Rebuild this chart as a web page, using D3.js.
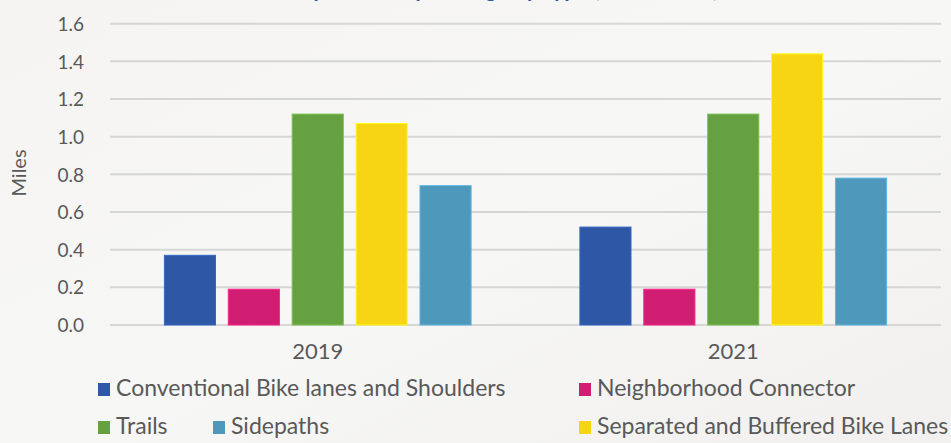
<!DOCTYPE html>
<html>
  <head>
    <meta charset="utf-8">
    <script src="https://cdn.jsdelivr.net/npm/d3@7/dist/d3.min.js"></script>
    <style>
      body { margin: 0; background: #f5f5f3; }
      text { font-family: Lato, 'Noto Sans', sans-serif; fill: #595959; }
    </style>
  </head>
  <body>
    <svg width="951" height="443"></svg>
    <script>
      // data
      const years = ['2019', '2021']
      const categories = [
        'Conventional Bike lanes and Shoulders',
        'Neighborhood Connector',
        'Trails',
        'Separated and Buffered Bike Lanes',
        'Sidepaths'
      ]
      const values2019 = [0.37, 0.19, 1.12, 1.07, 0.74]
      const values2021 = [0.52, 0.19, 1.12, 1.44, 0.78]
      const yTicks = [0, 0.2, 0.4, 0.6, 0.8, 1.0, 1.2, 1.4, 1.6]
      const colors = ['#2e57a5', '#d11d72', '#66a141', '#f7d414', '#4d98bb']

      const series = { '2019': values2019, '2021': values2021 }

      const svg = d3.select('svg')
      const width = +svg.attr('width')
      const height = +svg.attr('height')

      // soft background gradient
      const defs = svg.append('defs')
      const grad = defs.append('linearGradient').attr('id', 'bg')
        .attr('x1', '0%').attr('y1', '0%').attr('x2', '100%').attr('y2', '100%')
      grad.append('stop').attr('offset', '0%').attr('stop-color', '#f5f4f2')
      grad.append('stop').attr('offset', '50%').attr('stop-color', '#f7f7f6')
      grad.append('stop').attr('offset', '100%').attr('stop-color', '#f1f0ee')
      svg.append('rect').attr('width', width).attr('height', height).attr('fill', 'url(#bg)')

      // title, mostly above the top edge like in the source picture
      svg.append('text')
        .attr('x', 500).attr('y', -3)
        .attr('text-anchor', 'middle')
        .style('font-size', '22px').style('fill', '#2e57a5').style('font-weight', 'bold')
        .text('Bicycle Facility Mileage by Type (2019, 2021)')

      const left = 110, right = 941
      const y = d3.scaleLinear().domain([0, 1.6]).range([325, 23.7])

      const x0 = d3.scaleBand().domain(years).range([left, right]).padding(0)
      const inset = 48
      const x1 = d3.scaleBand().domain(categories)
        .range([inset, x0.bandwidth() - inset])
        .paddingInner(0.2).paddingOuter(0.1)

      // gridlines
      svg.append('g').selectAll('line')
        .data(yTicks).enter().append('line')
        .attr('x1', left).attr('x2', right)
        .attr('y1', (d) => y(d)).attr('y2', (d) => y(d))
        .attr('stroke', '#d6d6d6').attr('stroke-width', 2)

      // y axis labels
      const yAxis = d3.axisLeft(y).tickValues(yTicks).tickFormat(d3.format('.1f')).tickSize(0).tickPadding(0)
      const gy = svg.append('g').attr('transform', 'translate(84,0)').call(yAxis)
      gy.select('.domain').remove()
      gy.selectAll('text').style('font-size', '19px').style('fill', '#595959').attr('dy', '0.35em')

      svg.append('text')
        .attr('transform', 'translate(26,173) rotate(-90)')
        .attr('text-anchor', 'middle')
        .style('font-size', '20px')
        .text('Miles')

      // bars
      const groups = svg.append('g').selectAll('g')
        .data(years).enter().append('g')
        .attr('transform', (d) => `translate(${x0(d)},0)`)

      groups.selectAll('rect')
        .data((yr) => series[yr].map((v, i) => ({ cat: categories[i], v, i })))
        .enter().append('rect')
        .attr('x', (d) => x1(d.cat))
        .attr('width', x1.bandwidth())
        .attr('y', (d) => y(d.v))
        .attr('height', (d) => y(0) - y(d.v))
        .attr('fill', (d) => colors[d.i])
        .attr('stroke', (d) => d3.color(colors[d.i]).brighter(0.5))
        .attr('stroke-width', 1)

      // x axis labels
      const xAxis = d3.axisBottom(x0).tickSize(0).tickPadding(0)
      const gx = svg.append('g').attr('transform', 'translate(0,343)').call(xAxis)
      gx.select('.domain').remove()
      gx.selectAll('text').style('font-size', '22px').style('fill', '#595959').attr('dy', '0.71em')

      // legend
      const legendItems = [
        { i: 0, x: 98, y: 396 },
        { i: 1, x: 579, y: 396 },
        { i: 2, x: 98, y: 434 },
        { i: 4, x: 213, y: 434 },
        { i: 3, x: 579, y: 434 }
      ]
      const lg = svg.append('g').selectAll('g')
        .data(legendItems).enter().append('g')
        .attr('transform', (d) => `translate(${d.x},${d.y})`)
      lg.append('rect')
        .attr('x', 0).attr('y', -13).attr('width', 12).attr('height', 13)
        .attr('fill', (d) => colors[d.i])
      lg.append('text')
        .attr('x', 18).attr('y', 0)
        .style('font-size', '23px')
        .text((d) => categories[d.i])
    </script>
  </body>
</html>
